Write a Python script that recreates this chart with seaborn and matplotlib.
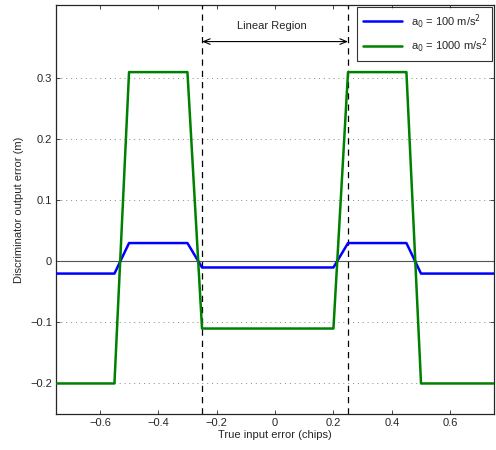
import matplotlib
matplotlib.use("Agg")
import matplotlib.pyplot as plt
import numpy as np
import pandas as pd
import seaborn as sns

# breakpoints of the discriminator curves (chips)
error_chips = [-0.75, -0.55, -0.50, -0.30, -0.25, 0.20, 0.25, 0.45, 0.50, 0.75]
out_a100 = [-0.02, -0.02, 0.03, 0.03, -0.01, -0.01, 0.03, 0.03, -0.02, -0.02]
out_a1000 = [-0.20, -0.20, 0.31, 0.31, -0.11, -0.11, 0.31, 0.31, -0.20, -0.20]
series_labels = [r"a$_0$ = 100 m/s$^2$", r"a$_0$ = 1000 m/s$^2$"]
linear_bounds = [-0.25, 0.25]
y_ticks = [-0.2, -0.1, 0, 0.1, 0.2, 0.3]
x_ticks = [-0.6, -0.4, -0.2, 0, 0.2, 0.4, 0.6]

df = pd.concat([
    pd.DataFrame({"x": error_chips, "y": out_a100, "series": series_labels[0]}),
    pd.DataFrame({"x": error_chips, "y": out_a1000, "series": series_labels[1]}),
])

sns.set_style("ticks")
plt.rcParams["font.family"] = ["Liberation Sans", "DejaVu Sans"]
plt.rcParams["font.size"] = 8
plt.rcParams["xtick.direction"] = "in"
plt.rcParams["ytick.direction"] = "in"

fig = plt.figure(figsize=(4.96, 4.5), dpi=100)
ax = fig.add_axes([0.113, 0.08, 0.883, 0.909])

for yt in y_ticks:
    if yt != 0:
        ax.axhline(yt, color="#888888", linestyle=(0, (1, 4)), linewidth=0.7, zorder=0)
ax.axhline(0, color="#555555", linewidth=0.8, zorder=1)

sns.lineplot(data=df, x="x", y="y", hue="series", palette=["#0000ff", "#008000"],
             sort=False, estimator=None, linewidth=1.8, ax=ax, zorder=3)

for xb in linear_bounds:
    ax.axvline(xb, color="black", linestyle=(0, (5, 4)), linewidth=0.9, zorder=2)

ax.annotate("", xy=(linear_bounds[0], 0.36), xytext=(linear_bounds[1], 0.36),
            arrowprops=dict(arrowstyle="<->,head_length=0.6,head_width=0.25",
                            color="black", linewidth=0.8, shrinkA=0, shrinkB=0))
ax.text(-0.01, 0.378, "Linear Region", ha="center", va="bottom", fontsize=8)

ax.set_xlim(-0.75, 0.75)
ax.set_ylim(-0.25, 0.42)
ax.set_xticks(x_ticks)
ax.set_yticks(y_ticks)
ax.set_xticklabels(["\u22120.6", "\u22120.4", "\u22120.2", "0", "0.2", "0.4", "0.6"])
ax.set_yticklabels(["\u22120.2", "\u22120.1", "0", "0.1", "0.2", "0.3"])
ax.tick_params(top=True, right=True, length=3, width=0.6, labelsize=8, pad=3)
for sp in ax.spines.values():
    sp.set_linewidth(0.9)

ax.set_xlabel("True input error (chips)", fontsize=8, labelpad=1)
ax.set_ylabel("Discriminator output error (m)", fontsize=8, labelpad=4)

leg = ax.legend(loc="upper right", frameon=True, fancybox=False, edgecolor="black",
                fontsize=8, handlelength=3.5, borderaxespad=0.15, labelspacing=0.55,
                borderpad=0.5)
leg.get_frame().set_linewidth(0.8)

fig.savefig("out.png", dpi=100)
